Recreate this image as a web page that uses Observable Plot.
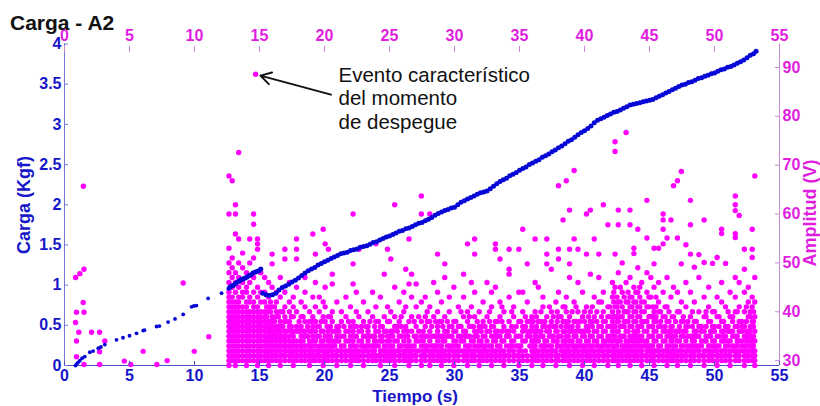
<!DOCTYPE html>
<html><head><meta charset="utf-8">
<script src="https://cdn.jsdelivr.net/npm/d3@7"></script>
<script src="https://cdn.jsdelivr.net/npm/@observablehq/plot@0.6"></script>
<style>body{margin:0;background:#fff}</style>
</head><body><div id="chart"></div>
<script>
// ---- data ----
const xTicks = [0,5,10,15,20,25,30,35,40,45,50,55];
const cargaTicks = [0,0.5,1,1.5,2,2.5,3,3.5,4];
const ampTicks = [30,40,50,60,70,80,90];
const cargaDomain = [0,4];
const ampDomain = [29,94.8];

// Carga (Kgf) vs Tiempo (s) — sparse start
const cargaEarly = [[0.85,0.0],[0.95,0.02],[1.05,0.04],[1.18,0.06],[1.35,0.09],[1.56,0.11],[1.95,0.165],[2.2,0.18],[2.6,0.215],[2.8,0.23],[3.1,0.26],[4.0,0.32],[4.5,0.345],[5.0,0.37],[5.54,0.40],[6.05,0.435],[6.15,0.44],[7.08,0.485],[7.3,0.49],[7.97,0.54],[8.5,0.58],[9.13,0.635],[9.77,0.73],[9.95,0.74],[10.15,0.745],[11.05,0.835],[12.08,0.90],[12.6,0.955]];
// Carga — dense record
const cargaDense = [[12.7,0.97],[12.85,0.99],[13.0,1.0],[13.15,1.02],[13.3,1.04],[13.45,1.05],[13.6,1.07],[13.75,1.08],[13.9,1.09],[14.05,1.10],[14.2,1.12],[14.35,1.13],[14.5,1.15],[14.65,1.16],[14.8,1.17],[14.95,1.18],[15.1,1.20],
[15.25,0.90],[15.5,0.88],[15.75,0.87],[16.0,0.88],[16.25,0.90],[16.5,0.94],[16.75,0.97],[17.0,0.99],[17.25,1.01],[17.5,1.04],[17.75,1.06],[18.0,1.09],[18.25,1.12],[18.5,1.15],[18.75,1.18],[19.0,1.20],[19.25,1.22],[19.5,1.25],[19.75,1.27],[20.0,1.29],[20.25,1.31],[20.5,1.33],[20.75,1.35],[21.0,1.37],[21.25,1.39],[21.5,1.40],[21.75,1.41],[22.0,1.43],[22.25,1.44],[22.5,1.45],[22.75,1.47],[23.0,1.48],[23.25,1.49],[23.5,1.51],[23.75,1.53],[24.0,1.54],[24.25,1.56],[24.5,1.58],[24.75,1.60],[25.0,1.61],[25.25,1.63],[25.5,1.65],[25.75,1.67],[26.0,1.68],[26.25,1.70],[26.5,1.71],[26.75,1.73],[27.0,1.75],[27.25,1.77],[27.5,1.78],[27.75,1.80],[28.0,1.82],[28.25,1.84],[28.5,1.87],[28.75,1.89],[29.0,1.91],[29.25,1.93],[29.5,1.94],[29.75,1.96],[30.0,1.97],[30.25,2.00],[30.5,2.03],[30.75,2.05],[31.0,2.07],[31.25,2.09],[31.5,2.11],[31.75,2.13],[32.0,2.15],[32.25,2.16],[32.5,2.17],[32.75,2.20],[33.0,2.23],[33.25,2.26],[33.5,2.29],[33.75,2.31],[34.0,2.33],[34.25,2.36],[34.5,2.38],[34.75,2.40],[35.0,2.43],[35.25,2.45],[35.5,2.47],[35.75,2.50],[36.0,2.52],[36.25,2.54],[36.5,2.56],[36.75,2.59],[37.0,2.61],[37.25,2.63],[37.5,2.66],[37.75,2.68],[38.0,2.71],[38.25,2.73],[38.5,2.76],[38.75,2.79],[39.0,2.81],[39.25,2.84],[39.5,2.87],[39.75,2.90],[40.0,2.92],[40.25,2.95],[40.5,2.98],[40.75,3.02],[41.0,3.05],[41.25,3.07],[41.5,3.09],[41.75,3.11],[42.0,3.13],[42.25,3.15],[42.5,3.16],[42.75,3.18],[43.0,3.20],[43.25,3.22],[43.5,3.24],[43.75,3.25],[44.0,3.26],[44.25,3.27],[44.5,3.28],[44.75,3.29],[45.0,3.30],[45.25,3.31],[45.5,3.33],[45.75,3.35],[46.0,3.37],[46.25,3.39],[46.5,3.41],[46.75,3.43],[47.0,3.45],[47.25,3.47],[47.5,3.49],[47.75,3.50],[48.0,3.52],[48.25,3.53],[48.5,3.55],[48.75,3.57],[49.0,3.58],[49.25,3.60],[49.5,3.61],[49.75,3.63],[50.0,3.64],[50.25,3.66],[50.5,3.68],[50.75,3.69],[51.0,3.71],[51.25,3.72],[51.5,3.74],[51.75,3.76],[52.0,3.78],[52.25,3.80],[52.5,3.83],[52.75,3.86],[53.0,3.88],[53.2,3.91]];

// Amplitud (V) — sparse hits
const ampSparse = [[0.85,47],[1.18,47.8],[1.5,48.7],[0.92,39.9],[0.85,37.8],[0.92,34],[0.92,30.8],[1.44,41.9],[1.5,39.9],[1.1,35.8],[1.5,29.2],[1.45,65.7],[2.08,35.8],[2.7,35.8],[2.7,31.8],[2.7,29.2],[3.1,34],[4.6,29.9],[5.1,29.2],[6.05,31.9],[7.1,29.2],[7.9,30],[9.13,45.9],[9.98,31.9],[11.1,34.9]];
const ampEvent = [14.7, 88.6];
// Amplitud (V) — dense hits, by time column
const ampColTimes = [12.65,12.9,13.15,13.4,13.7,14.0,14.25,14.55,14.85,15.1,15.4,15.7,15.97,16.3,16.6,16.95,17.3,17.6,17.85,18.2,18.5,18.85,19.1,19.3,19.6,19.9,20.05,20.3,20.6,20.95,21.3,21.65,22.0,22.2,22.45,22.65,23.0,23.35,23.7,23.95,24.3,24.6,24.85,25.1,25.4,25.75,26.1,26.25,26.5,26.7,27.05,27.45,27.75,28.1,28.4,28.7,29.0,29.25,29.6,29.95,30.3,30.7,31.0,31.3,31.55,31.9,32.2,32.5,32.85,33.15,33.5,33.8,34.2,34.55,34.95,35.25,35.6,35.95,36.2,36.45,36.8,37.1,37.45,37.8,38.0,38.35,38.6,38.85,39.2,39.5,39.85,40.15,40.45,40.75,41.1,41.45,41.8,42.15,42.35,42.6,42.9,43.2,43.5,43.8,44.1,44.4,44.8,45.1,45.35,45.7,46.05,46.35,46.65,46.85,47.15,47.45,47.8,48.15,48.45,48.8,49.2,49.55,49.85,50.2,50.55,50.85,51.2,51.6,51.9,52.3,52.6,52.9,53.1];
const ampColLevels = [
"29 30 31 32 33 34 35 36 37 38 39 40 41 42 43 44 46 48 50 53 60 67.8",
"30 31 32 33 34 35 36 37 38 39 40 41 42 43 45 47 49 51 66.8",
"29 30 31 32 33 34 35 36 37 38 39 40 41 42 44 46 48 55.9 60 61.9",
"30 31 32 33 34 35 36 37 38 39 40 41 42 43 45 47 50 54.9 72.6",
"30 31 32 33 34 35 36 37 38 39 40 41 43 44 46 49 52",
"29 30 31 32 33 34 35 36 37 38 39 40 41 42 44 45 48",
"30 31 32 33 34 35 36 37 38 39 40 42 43 46 50 54.9",
"30 31 32 33 34 35 36 37 38 39 40 41 42 44 47 51 57.9 60",
"29 30 31 32 33 34 35 36 37 38 39 40 41 43 45 52.8 53.9 54.9",
"30 31 32 33 34 35 36 37 38 39 40 42 44 48",
"30 31 32 33 34 35 36 37 38 39 40 42 44 47",
"29 30 31 32 33 34 35 36 37 38 40 41 43 46",
"30 31 32 33 34 35 36 37 38 39 41 45 49.8 51.8",
"30 31 32 33 34 35 36 37 39 40 42 44",
"29 30 31 32 33 34 35 36 37 38 40 43 47",
"30 31 32 33 34 35 36 38 39 41 44 50.8 52.8",
"30 31 32 33 34 35 37 38 40 42 46",
"29 30 31 32 33 34 35 36 39 41 43",
"30 31 32 33 34 36 37 40 45 50.8 52.8 54.9",
"30 31 32 33 34 35 37 39 42",
"30 31 32 33 35 36 38 41 44 47",
"29 30 31 32 33 34 36 38 40",
"30 31 32 34 35 37 39 43 55.9",
"30 31 33 34 36 38 41 46 51.8",
"30 31 32 33 35 37 40 43",
"29 30 31 32 34 36 39 42 56.9",
"30 31 32 33 35 38 41 45 53.9",
"30 31 33 34 36 39 52.8",
"30 31 32 33 34 36 38 40 45.7 47.7",
"29 30 31 32 34 35 37 42",
"30 31 32 33 35 38 40",
"30 31 32 34 36 39 43",
"29 30 31 32 33 35 37 41",
"30 31 33 34 36 38 45.7 49.8 60",
"30 31 32 33 35 37 40 44",
"30 31 32 34 36 39 52.8",
"29 30 31 32 33 35 38 42",
"30 31 32 34 36 37 40",
"30 31 32 33 35 39 44",
"30 31 33 34 36 38 41 53.9",
"29 30 31 32 34 35 37 43",
"30 31 32 33 36 39 47.7",
"30 31 32 34 35 38 41 52.8",
"30 31 32 33 36 40 50.8",
"29 30 31 32 34 37 39 45 61.9",
"30 31 32 33 35 38 42",
"30 31 32 34 36 40 44",
"30 31 33 35 37 41 48.7",
"29 30 31 32 34 38 45.7 54.9",
"30 31 32 33 36 39 43 47.7",
"30 31 32 34 35 37 41 45.7",
"29 30 31 33 35 38 42 60 63.7",
"30 31 32 33 35 37 39 43",
"29 30 31 32 34 36 38 41 60",
"30 31 32 33 35 39 46",
"30 31 32 34 36 37 40 44 51.8",
"29 30 31 32 33 35 38 42",
"30 31 32 34 36 39 47 49.8",
"30 31 32 33 35 37 40 43",
"29 30 31 32 34 36 38 45",
"30 31 32 33 35 37 41",
"30 31 32 34 36 39 43 47.7",
"29 30 31 32 33 35 38 40 53.9",
"30 31 32 34 37 41 46",
"30 31 33 35 36 39 44 51.8 54.9",
"29 30 31 32 34 37 40",
"30 31 32 33 35 38 42",
"30 31 32 34 36 39 46",
"29 30 31 32 33 35 37 41 44",
"30 31 32 34 36 38 45 52.8 53.9",
"30 31 32 33 35 39 42 50.8",
"29 30 31 32 34 37 40",
"30 31 32 33 35 36 38 43 47.7 48.7 52.8",
"30 31 32 34 36 39 41",
"29 30 31 32 33 35 38 44 52.8",
"30 31 34 36 37 40 44 56.9",
"30 31 35 36 38 42 49.8",
"29 30 31 32 34 37 39",
"30 31 32 33 35 36 40 46 54.9",
"30 31 32 34 36 38 45",
"29 30 31 32 33 35 37 41 43",
"30 31 32 34 36 39 49.8 51.8 54.9",
"30 31 32 33 35 38 40 48.7",
"29 30 31 32 34 36 37 42",
"30 31 33 35 39 44 50.8 52.8 65.8",
"30 31 32 34 36 38 41 58.8",
"30 31 32 33 35 37 40 43 66.8",
"29 30 31 32 34 36 39 47 49.8 52.8 60.8",
"30 31 32 33 35 38 42 54.9 68.9",
"30 31 32 34 37 40 46 52.8",
"29 30 31 32 33 35 36 39 44",
"30 31 32 34 37 41 51.8 60",
"30 31 32 33 35 38 40 47.7 60.8",
"29 30 31 32 34 36 39 43 54.9",
"30 31 32 33 35 37 42 47 51.8",
"30 31 32 34 36 38 40 44 61.9",
"29 30 31 32 33 35 37 39 41 57.8",
"30 31 32 33 34 36 38 40 43 46",
"30 31 32 33 35 37 39 41 45 51.8 72.8 74.8",
"29 30 31 32 34 36 38 40 42 48 57.8 60.8",
"30 31 32 33 35 37 39 41 44 50",
"30 31 32 33 34 36 38 40 42 46 76.7",
"29 30 31 32 33 35 37 39 41 43 47 57.8 60.8",
"30 31 32 33 34 35 36 38 40 42 45 51.9 53",
"30 31 32 33 34 36 37 39 41 44 49 56.9",
"29 30 31 32 33 35 37 38 40 42 46",
"30 31 32 33 34 36 38 41 44 48 55.1 62.8",
"30 31 32 33 35 37 39 43 47",
"29 30 31 32 34 36 38 40 45 49.8 53",
"30 31 32 33 35 37 40 42 46 53",
"30 31 32 34 36 39 44 53.9 56.9 58.8 60",
"29 30 31 32 33 35 38 41 47 55.1",
"30 31 32 34 36 37 43 58.8",
"30 31 32 33 35 39 45 65.8",
"29 30 31 32 34 36 40 44 55.1 66.8",
"30 31 32 33 35 38 42 49.8 68.7",
"30 31 32 34 36 37 41 46 53.7",
"29 30 31 32 33 35 39 44 51.8 57.8 62.8",
"30 31 32 34 36 38 42 49.1",
"30 31 32 33 35 37 40 47 51.7",
"29 30 31 32 34 36 39 43 50.1 58.8",
"30 31 32 33 35 38 41 45",
"30 31 32 34 36 37 40 49.9",
"29 30 31 32 33 35 39 43 51.1",
"30 31 32 34 36 38 42 46 56 56.9",
"30 31 32 33 35 37 41 49.9",
"29 30 31 32 34 36 39 44",
"30 31 32 33 35 37 40 43 47 55.2 56 60.7 61.9 63.7",
"30 31 32 34 36 38 41 46 59.7",
"29 30 31 32 33 35 37 40 44 48.7 52.8",
"30 31 32 34 36 39 42 45",
"30 31 32 33 35 37 38 41 43 51.1 52.8 56.9",
"29 30 31 32 34 36 39 42 47 67.8"
];
// Amplitud (V) — additional hits between the columns above
const ampColTimesB = [15.55,15.85,16.15,16.45,16.8,17.1,17.45,18.05,18.35,18.7,19.0,19.45,19.75,20.2,20.45,20.8,21.1,21.5,21.85,22.3,22.85,23.2,23.5,23.85,24.15,24.45,24.75,25.0,25.25,25.6,25.9,26.4,26.9,27.25,27.6,27.9,28.25,28.55,28.85,29.1,29.45,29.8,30.1,30.5,30.85,31.15,31.45,31.75,32.05,32.35,32.7,33.0,33.3,33.65,34.0,34.4,34.75,35.1,35.45,35.8,36.05,36.3,36.65,36.95,37.3,37.6,37.9,38.2,38.5,38.75,39.05,39.35,39.65,40.0,40.3,40.6,40.95,41.3,41.6,41.95,42.25,42.5,42.75,43.05,43.35,43.65,43.95,44.25,44.6,44.95,45.25,45.5,45.85,46.2,46.5,46.75,47.0,47.3,47.6,47.95,48.3,48.6,49.0,49.35,49.7,50.0,50.35,50.7,51.05,51.4,51.75,52.1,52.45,52.75,53.0];
const ampColLevelsB = [
"31 33 35 37 39 41","32 34 36 38 40 42","31 33 35 36 38 41","32 34 36 37 39","31 33 35 37 40","32 34 36 38","31 33 36 37 39",
"31 33 36 38","32 34 36 39","31 33 35 37","32 33 36 38","31 32 35 37","33 34 36 38","31 32 35 37","32 33 35 37 39","31 33 34 36","32 34 36 37","31 33 35 37","32 34 36 38","31 32 35 37",
"31 33 34 36 37","32 33 35 37","31 33 35 38","32 34 35 37","31 33 36 38","32 34 35 37","31 33 36","32 34 35 38","31 33 35 36","32 34 36 37","31 33 35 37 39","32 33 35 36","31 33 35 38","32 34 36 39","31 32 34 36","32 33 35 38 40",
"31 33 35 37","32 33 35 38","31 33 35 38","32 34 35 37","31 33 35 36 38","32 33 35 37","31 33 34 36 38","32 34 35 37 40","31 33 35 36","32 33 35 37 39","31 32 34 37","32 33 35 36 38","31 33 34 36 37","32 33 35 37","31 33 36 38 40",
"32 34 35 37","31 33 35 36 38","32 34 36 38 41","31 33 35 36","32 33 34 37 40","31 33 35 37","32 33 35 38","32 34 37 39","33 35 36 38","31 33 34 36 38","32 34 35 37 39","31 33 35 36 38 40","32 33 34 37 38","31 33 35 36 37 41","32 34 35 37 39","31 33 34 36 38 40",
"32 33 35 37 39","31 33 34 36 38 41","32 33 35 37 38","31 33 34 36 37 40","32 33 35 36 38 41","31 33 34 36 38","32 33 35 36 38 40","31 33 34 36 37 39","32 33 35 37 38 41","31 33 34 36 38 40","32 33 35 37 39 42","31 33 34 36 38","32 34 35 37 39 41",
"31 32 35 37 39 42 44","33 34 36 38 39 41 43","31 32 34 35 37 39 42 45","32 33 35 37 38 40 43","31 33 34 36 38 40 42 44","32 34 35 37 39 41 43","31 33 35 36 38 40 42 44","32 34 35 37 39 41 43 45","31 33 34 36 38 40 42","32 33 35 37 39 41 43",
"31 33 35 37 39 41","32 34 36 38 39 41 43","31 33 35 37 38 40","32 34 36 37 39 41","31 33 35 36 38 40","32 34 35 37 39","31 33 35 36 38","32 34 36 37 40","31 33 35 36 38 39","32 33 35 37 38",
"31 33 34 35 37 40","32 33 35 36 38","31 33 34 36 37","32 34 35 37 39 40","31 33 35 36 38","32 33 34 36 37 40","31 33 35 37 39","32 34 35 36 38","31 33 34 36 37 40","32 33 35 36 38 39","31 33 34 35 37 40","32 33 34 36 37 38","31 33 34 35 36 38 41","32 33 34 35 36 37 39 40","31 33 34 35 37 38 40"
];
// annotation
const annotText = "Evento característico\ndel momento\nde despegue";
const annotTextPos = [21.08, 3.74];   // (s, Kgf) of the text's top-left
const annotTail = [20.5, 3.37];       // arrow start (s, Kgf)

// ---- build tables ----
const toC = a => (a - ampDomain[0]) / (ampDomain[1] - ampDomain[0]) * (cargaDomain[1] - cargaDomain[0]);
const fromC = c => ampDomain[0] + c / (cargaDomain[1] - cargaDomain[0]) * (ampDomain[1] - ampDomain[0]);
const ampData = [];
ampColTimes.forEach((t, i) => ampColLevels[i].split(" ").forEach(a => ampData.push({t, a: +a})));
ampColTimesB.forEach((t, i) => ampColLevelsB[i].split(" ").forEach(a => ampData.push({t, a: +a})));
ampSparse.forEach(([t, a]) => ampData.push({t, a}));
ampData.push({t: ampEvent[0], a: ampEvent[1]});
const early = cargaEarly.map(([t, c]) => ({t, c}));
const dense = cargaDense.map(([t, c]) => ({t, c}));
const annot = [{x1: annotTail[0], y1: annotTail[1], x2: ampEvent[0], y2: toC(ampEvent[1]), tx: annotTextPos[0], ty: annotTextPos[1], text: annotText}];

const blueTxt = "#1616c8", magTxt = "#e01ee0", dotBlue = "#0606d6", dotPink = "#ff00ff";
const axBlueL = "#7878dc", axBlueB = "#5050c4", axMag = "#c888d8";
const F = "'Liberation Sans', Arial, sans-serif";

const plot = Plot.plot({
  width: 820, height: 406,
  marginLeft: 64, marginRight: 41, marginTop: 43.5, marginBottom: 41,
  x: {domain: [0, 55]},
  y: {domain: cargaDomain},
  style: {fontFamily: F, background: "white", overflow: "visible"},
  marks: [
    Plot.ruleX([0], {stroke: axBlueL}),
    Plot.ruleX([55], {stroke: axMag}),
    Plot.ruleY([0], {stroke: axBlueB}),
    Plot.dot(ampData, {x: "t", y: d => toC(d.a), r: 2.7, fill: dotPink, stroke: "none"}),
    Plot.dot(early, {x: "t", y: "c", r: 1.9, fill: dotBlue, stroke: "none"}),
    Plot.dot(dense, {x: "t", y: "c", r: 2.5, fill: dotBlue, stroke: "none"}),
    Plot.arrow(annot, {x1: "x1", y1: "y1", x2: "x2", y2: "y2", stroke: "#111", strokeWidth: 2, headLength: 9, insetEnd: 5}),
    Plot.text(annot, {x: "tx", y: "ty", text: "text", textAnchor: "start", lineAnchor: "top", lineHeight: 1.15, fontSize: 20.5, fill: "#111", fontFamily: F}),
    // left axis
    Plot.axisY({anchor: "left", ticks: cargaTicks, tickSize: 0, tickPadding: 3, fill: blueTxt, fontSize: 16, fontWeight: "bold", label: null, tickFormat: d => String(d)}),
    Plot.axisY({anchor: "left", ticks: cargaTicks, tickSize: 4, dx: 4, fill: "none", stroke: axBlueL, label: null}),
    // right axis (Amplitud)
    Plot.axisY({anchor: "right", ticks: ampTicks.map(toC), tickSize: 0, tickPadding: 3, fill: magTxt, fontSize: 16, fontWeight: "bold", label: null, tickFormat: d => String(Math.round(fromC(d)))}),
    Plot.axisY({anchor: "right", ticks: ampTicks.map(toC), tickSize: 5, dx: -5, fill: "none", stroke: axMag, label: null}),
    // bottom axis
    Plot.axisX({anchor: "bottom", ticks: xTicks, tickSize: 0, tickPadding: 4, fill: blueTxt, fontSize: 16, fontWeight: "bold", label: null}),
    Plot.axisX({anchor: "bottom", ticks: xTicks, tickSize: 4, dy: -4, fill: "none", stroke: axBlueB, label: null}),
    // top axis
    Plot.axisX({anchor: "top", ticks: xTicks, tickSize: 0, tickPadding: 3, fill: magTxt, fontSize: 16, fontWeight: "bold", label: null}),
    Plot.axisX({anchor: "top", ticks: xTicks, tickSize: 6, dy: 7.5, fill: "none", stroke: axMag, label: null})
  ]
});
document.getElementById("chart").appendChild(plot);

const svg = d3.select(plot);
svg.append("text").attr("x", 10).attr("y", 30).attr("text-anchor", "start").attr("font-family", F).attr("font-size", 21).attr("font-weight", "bold").attr("fill", "#111").text("Carga - A2");
svg.append("text").attr("transform", "translate(30,205) rotate(-90)").attr("text-anchor", "middle").attr("font-family", F).attr("font-size", 18).attr("font-weight", "bold").attr("fill", blueTxt).text("Carga (Kgf)");
svg.append("text").attr("transform", "translate(816,213) rotate(-90)").attr("text-anchor", "middle").attr("font-family", F).attr("font-size", 18).attr("font-weight", "bold").attr("fill", magTxt).text("Amplitud (V)");
svg.append("text").attr("x", 415).attr("y", 402).attr("text-anchor", "middle").attr("font-family", F).attr("font-size", 17).attr("font-weight", "bold").attr("fill", blueTxt).text("Tiempo (s)");
</script>
</body></html>
